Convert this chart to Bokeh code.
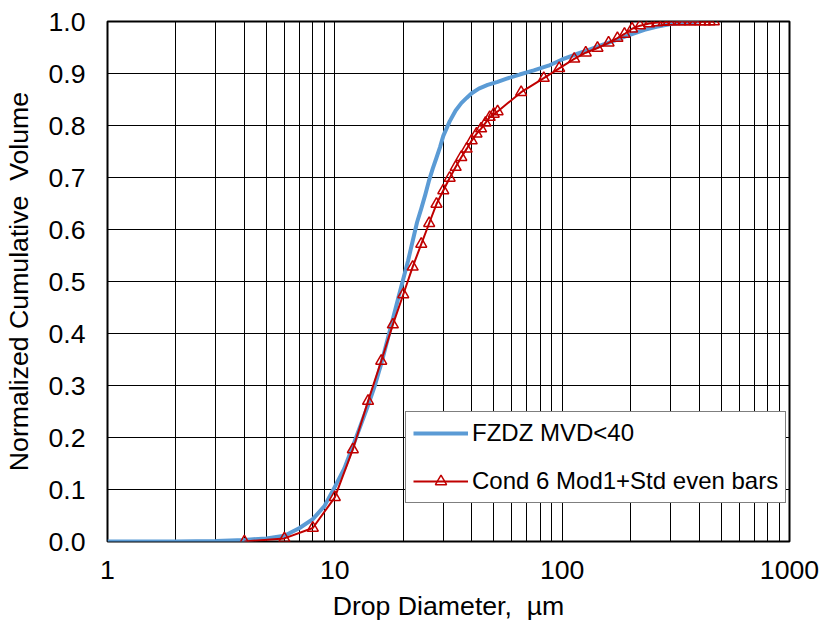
from bokeh.plotting import figure
from bokeh.models import FixedTicker, Legend, LegendItem, PrintfTickFormatter, Range1d
from bokeh.embed import file_html
from bokeh.resources import INLINE

# ---- data -------------------------------------------------------------
x_ticks = [1, 10, 100, 1000]
x_tick_labels = ["1", "10", "100", "1000"]
x_minor_ticks = [2, 3, 4, 5, 6, 7, 8, 9,
                 20, 30, 40, 50, 60, 70, 80, 90,
                 200, 300, 400, 500, 600, 700, 800, 900]
y_ticks = [0.0, 0.1, 0.2, 0.3, 0.4, 0.5, 0.6, 0.7, 0.8, 0.9, 1.0]
y_tick_labels = ["0.0", "0.1", "0.2", "0.3", "0.4", "0.5", "0.6", "0.7", "0.8", "0.9", "1.0"]

fzdz_label = "FZDZ MVD<40"
fzdz_x = [1, 2, 3, 4, 5, 6, 7, 8, 9, 10, 11, 12, 13, 14, 15, 16, 17, 18, 19, 20,
          21, 22, 23, 24, 25, 26, 27, 28, 29, 30, 32, 34, 36, 38, 40, 43, 47, 52,
          57, 65, 75, 87, 100, 115, 130, 150, 175, 200, 230, 260, 300, 350, 400]
fzdz_y = [0.0, 0.0, 0.001, 0.003, 0.006, 0.011, 0.026, 0.043, 0.068, 0.105, 0.140,
          0.183, 0.224, 0.262, 0.300, 0.342, 0.386, 0.428, 0.468, 0.505, 0.540,
          0.578, 0.614, 0.640, 0.667, 0.695, 0.718, 0.738, 0.758, 0.780, 0.808,
          0.829, 0.843, 0.853, 0.862, 0.871, 0.878, 0.884, 0.890, 0.898, 0.906,
          0.915, 0.927, 0.937, 0.945, 0.955, 0.965, 0.975, 0.984, 0.990, 0.995,
          0.998, 1.0]

cond_label = "Cond 6 Mod1+Std even bars"
cond_x = [4, 6, 8, 10, 12, 14, 16, 18, 20, 22, 24, 26, 28, 30, 32, 34, 36, 38, 40,
          42, 44, 46, 48, 50, 52, 66, 83, 97, 113, 127, 143, 160, 175, 188, 203,
          220, 241, 262, 280, 295, 310, 330, 345, 365, 385, 405, 425, 445, 465]
cond_y = [0.0, 0.006, 0.026, 0.085, 0.177, 0.270, 0.347, 0.417, 0.475, 0.528,
          0.572, 0.612, 0.649, 0.675, 0.699, 0.720, 0.739, 0.755, 0.771, 0.784,
          0.794, 0.805, 0.816, 0.822, 0.827, 0.864, 0.891, 0.910, 0.928, 0.940,
          0.949, 0.959, 0.968, 0.976, 0.986, 0.992, 0.996, 0.998, 0.999, 1.0,
          1.0, 1.0, 1.0, 1.0, 1.0, 1.0, 1.0, 1.0, 1.0]

x_title = "Drop Diameter,\u00a0 µm"
y_title = "Normalized Cumulative\u00a0 Volume"

# ---- styling ----------------------------------------------------------
FONT = "Liberation Sans"
FS = "26.67px"
LEG_FS = "24px"
BLUE = "#5B9BD5"
RED = "#C00000"

p = figure(width=823, height=623, x_axis_type="log",
           x_range=Range1d(1, 1000), y_range=Range1d(0, 1),
           output_backend="svg", toolbar_location=None,
           min_border_left=107, min_border_right=34,
           min_border_top=21, min_border_bottom=82)

p.background_fill_color = "white"
p.border_fill_color = "white"
p.outline_line_color = "black"
p.outline_line_width = 2

xt = FixedTicker(ticks=x_ticks, minor_ticks=x_minor_ticks)
yt = FixedTicker(ticks=y_ticks)
p.xaxis.ticker = xt
p.yaxis.ticker = yt
p.xgrid.ticker = xt
p.ygrid.ticker = yt
p.xaxis.major_label_overrides = dict(zip(x_ticks, x_tick_labels))
p.yaxis.formatter = PrintfTickFormatter(format="%.1f")
p.yaxis.major_label_overrides = dict(zip(y_ticks, y_tick_labels))

for g in (p.xgrid, p.ygrid):
    g.grid_line_color = "black"
    g.grid_line_width = 1
    g.grid_line_alpha = 1
p.xgrid.minor_grid_line_color = "black"
p.xgrid.minor_grid_line_width = 1

for ax in (p.xaxis, p.yaxis):
    ax.axis_line_color = None
    ax.major_tick_line_color = None
    ax.minor_tick_line_color = None
    ax.major_tick_in = 0
    ax.major_tick_out = 0
    ax.minor_tick_in = 0
    ax.minor_tick_out = 0
    ax.major_label_text_font = FONT
    ax.major_label_text_font_size = FS
    ax.major_label_text_color = "black"
    ax.axis_label_text_font = FONT
    ax.axis_label_text_font_size = FS
    ax.axis_label_text_font_style = "normal"
    ax.axis_label_text_color = "black"

p.xaxis.axis_label = x_title
p.yaxis.axis_label = y_title
p.xaxis.major_label_standoff = 19
p.xaxis.axis_label_standoff = 9
p.yaxis.major_label_standoff = 22
p.yaxis.axis_label_standoff = 11

r_blue = p.line(fzdz_x, fzdz_y, line_color=BLUE, line_width=4, line_join="round")
r_red = p.line(cond_x, cond_y, line_color=RED, line_width=2)
r_pts = p.scatter(cond_x, cond_y, marker="triangle", size=11, fill_color=None,
                  line_color=RED, line_width=1.5)

legend = Legend(items=[LegendItem(label=fzdz_label, renderers=[r_blue]),
                       LegendItem(label=cond_label, renderers=[r_red, r_pts])],
                location=(298, 38), margin=0, padding=7, spacing=20,
                glyph_width=55, glyph_height=28, label_height=28,
                label_standoff=4,
                label_text_font=FONT, label_text_font_size=LEG_FS,
                label_text_color="black",
                border_line_color="black", border_line_width=1.5,
                background_fill_color="white", background_fill_alpha=1)
p.add_layout(legend)

open("out.html", "w").write(file_html(p, INLINE))
